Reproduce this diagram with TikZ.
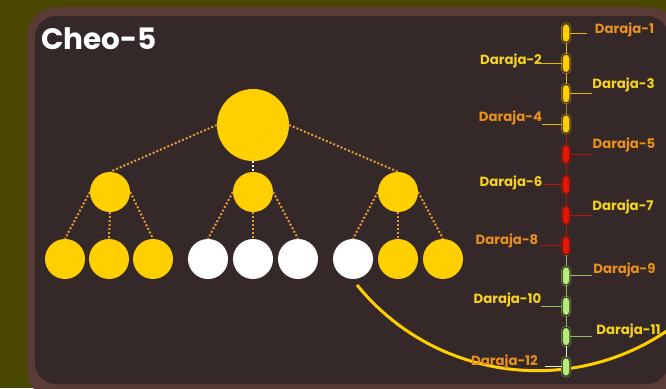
\documentclass[tikz,border=0pt]{standalone}
\usepackage{fontspec}
\newfontfamily\popfont{Poppins}
\definecolor{oliveback}{RGB}{74,72,0}
\definecolor{panelrim}{RGB}{91,59,53}
\definecolor{panelfill}{RGB}{53,40,40}
\definecolor{gold}{RGB}{255,207,0}
\definecolor{dotorange}{RGB}{226,152,60}
\definecolor{darorange}{RGB}{232,144,26}
\definecolor{daryellow}{RGB}{245,210,30}
\definecolor{yelpill}{RGB}{255,207,0}
\definecolor{yelring}{RGB}{190,150,0}
\definecolor{yelline}{RGB}{230,185,0}
\definecolor{redpill}{RGB}{235,20,0}
\definecolor{redring}{RGB}{170,20,10}
\definecolor{redline}{RGB}{185,20,10}
\definecolor{grnpill}{RGB}{182,238,120}
\definecolor{grnring}{RGB}{125,165,80}
\definecolor{grnline}{RGB}{140,190,95}
\definecolor{paleline}{RGB}{225,240,200}
\definecolor{oliveline}{RGB}{150,135,45}
\tikzset{
  ball/.style={circle, inner sep=0pt, minimum size=#1},
  twig/.style={line width=2pt, dash pattern=on 2pt off 2pt, dotorange},
  capsule/.style={rectangle, rounded corners=4pt, minimum width=8pt, minimum height=19pt,
    inner sep=0pt, outer sep=0pt, line width=0.5pt, draw=#1ring, double=panelfill,
    double distance=1pt, fill=#1pill},
  tie/.style={line width=1pt, #1},
  daraja/.style={font=\popfont\bfseries\fontsize{13.3}{13}\selectfont, text=#1, inner sep=0pt}
}
\begin{document}
\begin{tikzpicture}[x=1pt, y=-1pt]
    \useasboundingbox (0,0) rectangle (666,388);
    \fill[oliveback] (0,0) rectangle (666,388);
    \fill[panelrim, rounded corners=30pt] (27,7) rectangle (678,400);
    \fill[panelfill, rounded corners=21pt] (35,16) rectangle (668,384);

    \node[anchor=base west, inner sep=0pt, text=white, font=\popfont\bfseries\fontsize{29.5}{29.5}\selectfont] (title) at (41,49) {Cheo-5};

    % tree
    \node[ball=72pt, fill=gold] (root) at (253,125) {};
    \foreach \m/\x in {1/110, 2/253, 3/398}
        \node[ball=40pt, fill=gold] (m\m) at (\x,192) {};
    \foreach \l/\x/\col in {1/65/gold, 2/109/gold, 3/153/gold, 4/208/white, 5/253/white, 6/298/white, 7/353/white, 8/398/gold, 9/443/gold}
        \node[ball=40pt, fill=\col] (l\l) at (\x,259) {};

    \draw[twig] (root.west) -- (m1.north);
    \draw[twig, white] (root.south) -- (m2.north);
    \draw[twig] (root.east) -- (m3.north);
    \foreach \m/\a/\b/\c in {1/1/2/3, 2/4/5/6, 3/7/8/9} {
        \draw[twig] (m\m.west) -- (l\a.north);
        \draw[twig] (m\m.south) -- (l\b.north);
        \draw[twig] (m\m.east) -- (l\c.north);
    }

    \draw[gold, line width=3pt] (357,285) arc[start angle=140.9, end angle=54, radius=232];

    % levels
    \foreach \i/\grp in {1/yel, 2/yel, 3/yel, 4/yel, 5/red, 6/red, 7/red, 8/red, 9/grn, 10/grn, 11/grn, 12/grn}
        \node[capsule=\grp] (c\i) at (566,{33+(\i-1)*30.36}) {};
    \foreach \i/\j/\col in {1/2/yelline, 2/3/yelline, 3/4/oliveline, 4/5/redline, 5/6/redline, 6/7/redline, 7/8/redline, 8/9/grnline, 9/10/grnline, 10/11/grnline, 11/12/paleline}
        \draw[tie=\col] (c\i.south) -- (c\j.north);

    \foreach \i/\side/\dx/\col/\tx/\ty/\tcol in {1/east/17/yelline/624.5/30/darorange, 2/west/-21/yelline/511/61/daryellow,
        3/east/22/yelline/623.5/85/daryellow, 4/west/-20/yelline/510.5/118/darorange,
        5/east/22/redline/624/145/darorange, 6/west/-19/redline/511/183/daryellow,
        7/east/22/redline/623/207/daryellow, 8/west/-22/redline/507/241/darorange,
        9/east/22/grnline/624.5/270/darorange, 10/west/-21/grnline/507.5/300/daryellow,
        11/east/22/grnline/628.5/331/daryellow, 12/west/-17/paleline/504.5/362/darorange} {
        \draw[tie=\col] (c\i.\side) -- ++(\dx,0) coordinate (e\i);
        \node[daraja=\tcol] (d\i) at (\tx,\ty) {Daraja-\i};
    }
\end{tikzpicture}
\end{document}
